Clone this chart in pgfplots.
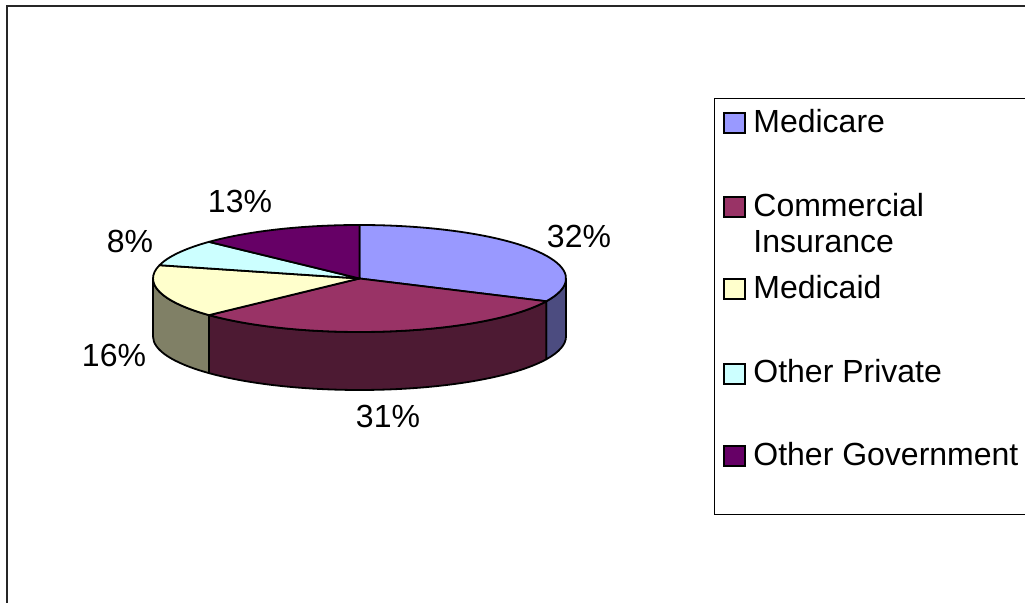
\documentclass[border=0pt]{standalone}
\usepackage{fontspec}
\setmainfont{Liberation Sans}
\usepackage{pgfplots}
\usepackage{pgfplotstable}
\pgfplotsset{compat=1.18}
\definecolor{cMed}{HTML}{9999FF}
\definecolor{cCom}{HTML}{993366}
\definecolor{cMcd}{HTML}{FFFFCC}
\definecolor{cOP}{HTML}{CCFFFF}
\definecolor{cOG}{HTML}{660066}
\definecolor{sMed}{HTML}{4C4C80}
\definecolor{sCom}{HTML}{4D1A33}
\definecolor{sMcd}{HTML}{808066}

\pgfplotstableread{
label value
Medicare 32
Commercial 31
Medicaid 16
OtherPrivate 8
OtherGovernment 13
}\piedata
\def\rx{103.25pt}
\def\ry{26.75pt}
\def\dep{29pt}

\begin{document}%
\begin{tikzpicture}[font=\fontsize{16}{18.5}\selectfont]
\pgfplotstablegetelem{0}{value}\of\piedata \let\va\pgfplotsretval
\pgfplotstablegetelem{1}{value}\of\piedata \let\vb\pgfplotsretval
\pgfplotstablegetelem{2}{value}\of\piedata \let\vc\pgfplotsretval
\pgfplotstablegetelem{3}{value}\of\piedata \let\vd\pgfplotsretval
\pgfplotstablegetelem{4}{value}\of\piedata \let\ve\pgfplotsretval
\pgfmathsetmacro\tot{\va+\vb+\vc+\vd+\ve}
\pgfmathsetmacro\aO{90}
\pgfmathsetmacro\aA{\aO-360*\va/\tot}
\pgfmathsetmacro\aB{\aA-360*\vb/\tot}
\pgfmathsetmacro\aC{\aB-360*\vc/\tot}
\pgfmathsetmacro\aD{\aC-360*\vd/\tot}
\pgfmathsetmacro\aE{\aD-360*\ve/\tot}
\pgfmathsetmacro\wMedS{min(\aA,0)}
\begin{axis}[name=ax,
  width=512.5pt, height=301.5pt, scale only axis,
  xmin=0, xmax=1025, ymin=0, ymax=603, y dir=reverse,
  hide axis, clip=true]
% outer chart frame and legend frame
\draw[line width=1pt, black!85] (axis cs:7,6) rectangle (axis cs:1200,800);
\draw[line width=0.5pt, black] (axis cs:714.5,99) rectangle (axis cs:1200,515);
\tikzset{sl/.style={line width=0.9pt, line join=round}}
% side walls
\draw[sl, fill=sMed] (axis cs:359.5,278.5) ++(\wMedS:103.25pt and 26.75pt)
   arc[start angle=\wMedS, end angle=0, x radius=\rx, y radius=\ry] -- ++(0,-\dep)
   arc[start angle=0, end angle=\wMedS, x radius=\rx, y radius=\ry] -- cycle;
\draw[sl, fill=sMcd] (axis cs:359.5,278.5) ++(-180:103.25pt and 26.75pt)
   arc[start angle=-180, end angle=\aB, x radius=\rx, y radius=\ry] -- ++(0,-\dep)
   arc[start angle=\aB, end angle=-180, x radius=\rx, y radius=\ry] -- cycle;
\draw[sl, fill=sCom] (axis cs:359.5,278.5) ++(\aB:103.25pt and 26.75pt)
   arc[start angle=\aB, end angle=\aA, x radius=\rx, y radius=\ry] -- ++(0,-\dep)
   arc[start angle=\aA, end angle=\aB, x radius=\rx, y radius=\ry] -- cycle;
% top faces
\draw[sl, fill=cMed] (axis cs:359.5,278.5) -- ++(\aA:103.25pt and 26.75pt)
   arc[start angle=\aA, end angle=\aO, x radius=\rx, y radius=\ry] -- cycle;
\draw[sl, fill=cCom] (axis cs:359.5,278.5) -- ++(\aB:103.25pt and 26.75pt)
   arc[start angle=\aB, end angle=\aA, x radius=\rx, y radius=\ry] -- cycle;
\draw[sl, fill=cMcd] (axis cs:359.5,278.5) -- ++(\aC:103.25pt and 26.75pt)
   arc[start angle=\aC, end angle=\aB, x radius=\rx, y radius=\ry] -- cycle;
\draw[sl, fill=cOP] (axis cs:359.5,278.5) -- ++(\aD:103.25pt and 26.75pt)
   arc[start angle=\aD, end angle=\aC, x radius=\rx, y radius=\ry] -- cycle;
\draw[sl, fill=cOG] (axis cs:359.5,278.5) -- ++(\aE:103.25pt and 26.75pt)
   arc[start angle=\aE, end angle=\aD, x radius=\rx, y radius=\ry] -- cycle;
% percentage labels
\node[anchor=base] at (axis cs:579,248) {32\%};
\node[anchor=base] at (axis cs:388,428) {31\%};
\node[anchor=base] at (axis cs:114,367) {16\%};
\node[anchor=base] at (axis cs:130,253) {8\%};
\node[anchor=base] at (axis cs:240,213) {13\%};
% legend
\tikzset{lk/.style={line width=1pt}}
\draw[lk, fill=cMed] (axis cs:724,113) rectangle (axis cs:745,133);
\draw[lk, fill=cCom] (axis cs:724,197) rectangle (axis cs:745,217);
\draw[lk, fill=cMcd] (axis cs:724,279) rectangle (axis cs:745,299);
\draw[lk, fill=cOP] (axis cs:724,364) rectangle (axis cs:745,384);
\draw[lk, fill=cOG] (axis cs:724,446) rectangle (axis cs:745,466);
\node[anchor=base west, inner sep=0pt] at (axis cs:753,133) {Medicare};
\node[anchor=base west, inner sep=0pt] at (axis cs:753,217) {Commercial};
\node[anchor=base west, inner sep=0pt] at (axis cs:753,253) {Insurance};
\node[anchor=base west, inner sep=0pt] at (axis cs:753,299) {Medicaid};
\node[anchor=base west, inner sep=0pt] at (axis cs:753,383) {Other Private};
\node[anchor=base west, inner sep=0pt] at (axis cs:753,466) {Other Government};
\end{axis}
\pgfresetboundingbox
\useasboundingbox (ax.south west) rectangle (ax.north east);
\end{tikzpicture}%
\end{document}
